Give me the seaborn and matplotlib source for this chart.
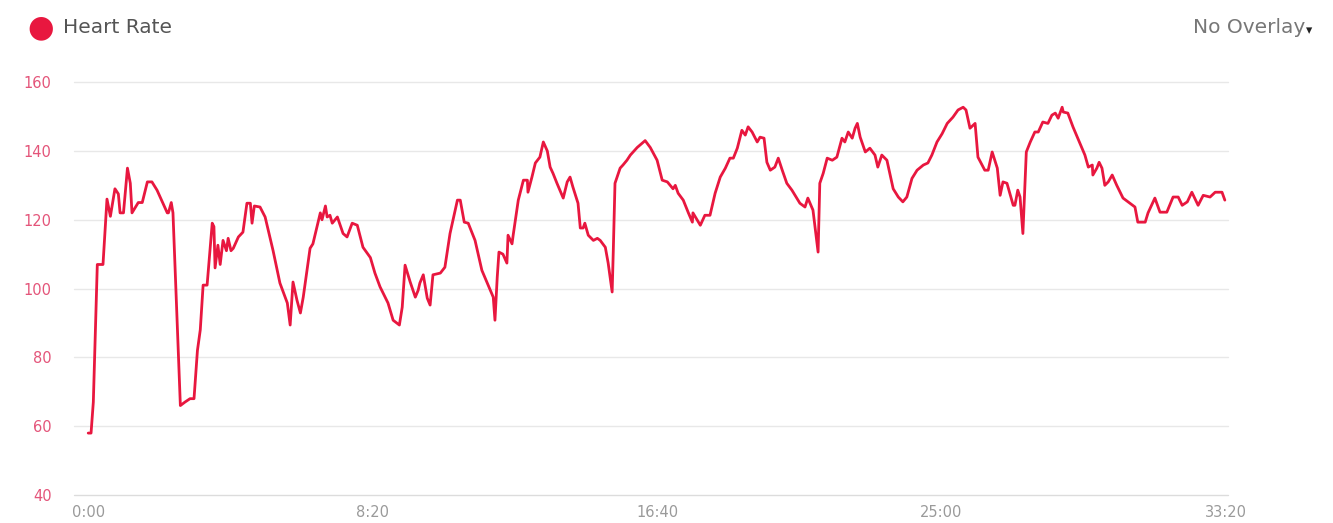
import seaborn as sns
import pandas as pd
import numpy as np
import matplotlib.pyplot as plt

#----- Data (seconds since start, bpm) -----
seconds = [0, 5, 9, 16, 26, 33, 39, 42, 47, 53, 56, 62, 69, 74, 77, 88, 95, 104, 112, 121,
           139, 141, 146, 149, 162, 170, 179, 186, 192, 197, 202, 209, 214, 218, 221, 223, 228, 232, 237, 243,
           246, 251, 255, 264, 272, 279, 285, 288, 292, 302, 311, 325, 337, 350, 355, 360, 367, 373, 378, 390,
           395, 402, 408, 411, 417, 420, 425, 429, 438, 448, 455, 464, 473, 483, 496, 504, 513, 527, 536, 547,
           552, 557, 566, 575, 580, 583, 589, 596, 601, 606, 619, 627, 636, 649, 654, 661, 668, 680, 692, 703,
           712, 715, 719, 722, 729, 736, 738, 745, 747, 756, 765, 772, 773, 780, 786, 794, 800, 807, 812, 817,
           824, 835, 842, 847, 852, 861, 865, 870, 873, 879, 888, 895, 900, 909, 914, 921, 923, 926, 935, 940,
           947, 953, 965, 979, 988, 1000, 1009, 1018, 1028, 1032, 1037, 1046, 1055, 1062, 1063, 1076, 1084, 1093, 1102, 1111,
           1120, 1128, 1134, 1141, 1149, 1155, 1160, 1167, 1176, 1181, 1188, 1193, 1199, 1207, 1213, 1220, 1228, 1237, 1251, 1260,
           1265, 1274, 1283, 1286, 1292, 1299, 1308, 1316, 1325, 1330, 1336, 1343, 1348, 1352, 1357, 1366, 1374, 1383, 1388, 1395,
           1404, 1415, 1424, 1432, 1439, 1448, 1457, 1468, 1476, 1483, 1492, 1501, 1510, 1520, 1529, 1538, 1543, 1550, 1559, 1564,
           1576, 1582, 1589, 1598, 1603, 1608, 1615, 1626, 1629, 1634, 1638, 1643, 1649, 1656, 1664, 1670, 1678, 1687, 1694, 1700,
           1705, 1712, 1714, 1722, 1731, 1743, 1752, 1758, 1765, 1766, 1773, 1777, 1782, 1787, 1793, 1800, 1808, 1819, 1828, 1840,
           1845, 1858, 1863, 1875, 1884, 1896, 1907, 1916, 1923, 1932, 1940, 1951, 1960, 1972, 1981, 1993, 1998]
heart_rate = [58, 58, 67, 107, 107, 126, 121, 124, 129, 127.5, 122, 122, 135, 130.6, 122, 125, 125, 131, 131, 128.6,
              122, 122, 125, 122, 66, 67, 68, 68, 82, 88, 101, 101, 111, 119, 118, 106, 112.6, 107, 114, 111,
              114.6, 111, 111.7, 115, 116.4, 124.8, 124.8, 119, 124, 123.7, 120.8, 111, 101.6, 95.8, 89.4, 101.9, 96.6, 92.9, 97.5, 111.7,
              113, 117.8, 122, 120, 124, 120.8, 121.3, 119, 120.8, 116, 115, 119, 118.4, 112, 109, 104.5, 100.5, 95.8, 90.8, 89.4,
              94.6, 106.8, 101.9, 97.5, 99.5, 101.6, 104, 97.2, 95.2, 104, 104.5, 106.2, 116, 125.7, 125.7, 119.3, 119, 114, 105.3, 101,
              97.5, 90.8, 103.3, 110.6, 110, 107.4, 115.5, 113, 115.5, 125.7, 131.5, 131.5, 128, 132.4, 136.5, 138.2, 142.6, 140, 135.3, 133.5,
              130.6, 126.3, 131, 132.4, 129.5, 124.8, 117.6, 117.6, 119, 115.5, 114, 114.6, 114, 112, 107.4, 99, 111, 130.6, 135, 135.9,
              137.3, 138.8, 141, 143, 141, 137.3, 131.5, 131, 129, 130, 127.7, 125.7, 122, 119.3, 122, 118.4, 121.3, 121.3, 127.7, 132.4,
              135, 137.9, 137.9, 140.8, 146, 144.6, 147, 145.5, 142.6, 144, 143.7, 136.7, 134.4, 135.3, 137.9, 134.4, 130.6, 128.6, 124.8, 123.7,
              126.3, 122.8, 110.6, 130.6, 133.5, 137.9, 137.3, 138.2, 143.7, 142.6, 145.5, 143.7, 146.6, 148, 144, 139.7, 140.8, 138.8, 135.3, 138.8,
              137.3, 129, 126.6, 125.2, 126.6, 132, 134.4, 135.9, 136.5, 138.8, 142.6, 145, 148, 149.8, 151.9, 152.7, 151.9, 146.6, 148, 138.2,
              134.4, 134.4, 139.7, 135, 127.1, 131, 130.6, 124.2, 124.2, 128.6, 126.6, 116, 139.7, 142.6, 145.5, 145.5, 148.4, 148, 150.4, 151,
              149.5, 152.7, 151.3, 151, 147, 142.3, 138.8, 135.3, 135.9, 133, 135, 136.7, 135, 130, 131, 133, 130, 126.3, 125.2, 123.7,
              119.3, 119.3, 122, 126.3, 122.2, 122.2, 126.6, 126.6, 124.2, 125.2, 128, 124.2, 127.1, 126.6, 128, 128, 125.7]

y_ticks = [40, 60, 80, 100, 120, 140, 160]
x_ticks = [0, 500, 1000, 1500, 2000]
x_labels = ["0:00", "8:20", "16:40", "25:00", "33:20"]

df_hr = pd.DataFrame({"time": seconds, "bpm": heart_rate})

#----- Style -----
sns.set_style("white")
plt.rcParams['font.family'] = ['DejaVu Sans']

RED = "#e8173f"

fig = plt.figure(figsize=(13.33, 5.23), dpi=100)
ax = fig.add_axes([0.0555, 0.0535, 0.8655, 0.7895])

sns.lineplot(data=df_hr, x="time", y="bpm", color=RED, linewidth=2.0, ax=ax, zorder=3)

ax.set_xlim(-25, 2003)
ax.set_ylim(40, 160)
ax.set_yticks(y_ticks)
ax.set_xticks(x_ticks)
ax.set_xticklabels(x_labels)
ax.set_xlabel("")
ax.set_ylabel("")
ax.grid(False)
# horizontal guide lines, unclipped so the 40 line at the bottom edge shows
for yv in y_ticks:
    ax.axhline(yv, color="#e8e8e8" if yv > 40 else "#dcdcdc", linewidth=1.0, clip_on=False, zorder=1)
for s in ax.spines.values():
    s.set_visible(False)
ax.tick_params(axis="y", length=0, pad=16, labelsize=10.5, labelcolor="#e4557a")
ax.tick_params(axis="x", length=0, pad=7, labelsize=10.5, labelcolor="#9a9a9a")

#----- Header -----
fig.text(0.0205, 0.947, "\u25CF", color=RED, fontsize=22, va="center")
fig.text(0.047, 0.947, "Heart Rate", color="#555555", fontsize=14.5, va="center")
fig.text(0.979, 0.947, "No Overlay", color="#777777", fontsize=14.5, va="center", ha="right")
fig.text(0.98, 0.942, "\u25BE", color="#222222", fontsize=9, va="center")

fig.savefig("out.png", dpi=100)
